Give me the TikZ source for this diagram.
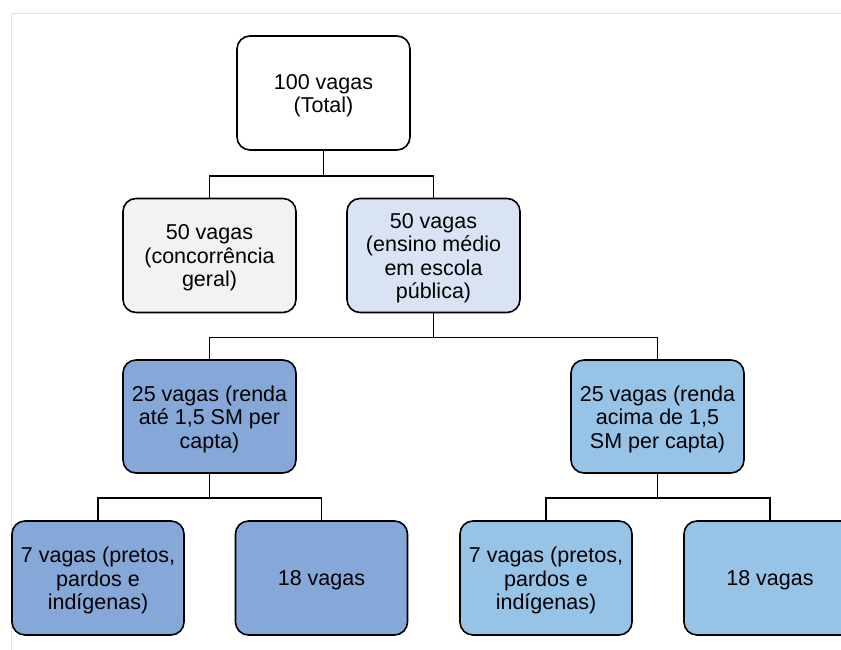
\documentclass[tikz,border=0pt]{standalone}
\usepackage{fontspec}
\setmainfont{Liberation Sans}
\definecolor{framegray}{HTML}{E2E2E2}
\definecolor{grayfill}{HTML}{F2F2F2}
\definecolor{paleblue}{HTML}{DAE3F3}
\definecolor{midblue}{HTML}{86A8D9}
\definecolor{skyblue}{HTML}{97C3E7}
\begin{document}
\begin{tikzpicture}[x=1pt,y=-1pt,
  box/.style={draw=black, line width=1.6pt, rounded corners=13pt,
    minimum width=173pt, minimum height=114pt, inner sep=0pt},
  txt/.style={align=center, inner sep=0pt, yshift=-2.5pt,
    font=\fontsize{21.5}{23.5}\selectfont, text=black},
  conn/.style={draw=black, line width=1.5pt}]
\useasboundingbox (0,0) rectangle (841,650);
\clip (0,0) rectangle (841,650);
\fill[white] (0,0) rectangle (841,650);
\draw[framegray, line width=1pt] (841,14) -- (11,14) -- (11,650);
% nodes
\node[box, fill=white, label={[txt]center:{100 vagas\\(Total)}}] (top) at (323.5,93) {};
\node[box, fill=grayfill, label={[txt]center:{50 vagas\\(concorrência\\geral)}}] (ga) at (209.5,255.5) {};
\node[box, fill=paleblue, label={[txt]center:{50 vagas\\(ensino médio\\em escola\\pública)}}] (gb) at (433.5,255.5) {};
\node[box, fill=midblue, minimum height=113pt, label={[txt]center:{25 vagas (renda\\até 1,5 SM per\\capta)}}] (ra) at (209.5,416.5) {};
\node[box, fill=skyblue, minimum height=113pt, label={[txt]center:{25 vagas (renda\\acima de 1,5\\SM per capta)}}] (rb) at (657.5,416.5) {};
\node[box, fill=midblue, minimum width=172pt, label={[txt]center:{7 vagas (pretos,\\pardos e\\indígenas)}}] (pa) at (98,578) {};
\node[box, fill=midblue, minimum width=172pt, label={[txt]center:{18 vagas}}] (qa) at (321.5,578) {};
\node[box, fill=skyblue, minimum width=172pt, label={[txt]center:{7 vagas (pretos,\\pardos e\\indígenas)}}] (pb) at (546,578) {};
\node[box, fill=skyblue, minimum width=172pt, label={[txt]center:{18 vagas}}] (qb) at (770,578) {};
% connectors
\draw[conn] (top.south) -- ++(0,25) -| (ga.north);
\draw[conn] (top.south) -- ++(0,25) -| (gb.north);
\draw[conn] (gb.south) -- ++(0,24) -| (ra.north);
\draw[conn] (gb.south) -- ++(0,24) -| (rb.north);
\draw[conn] (ra.south) -- ++(0,24) -| (pa.north);
\draw[conn] (ra.south) -- ++(0,24) -| (qa.north);
\draw[conn] (rb.south) -- ++(0,24) -| (pb.north);
\draw[conn] (rb.south) -- ++(0,24) -| (qb.north);
\end{tikzpicture}
\end{document}
